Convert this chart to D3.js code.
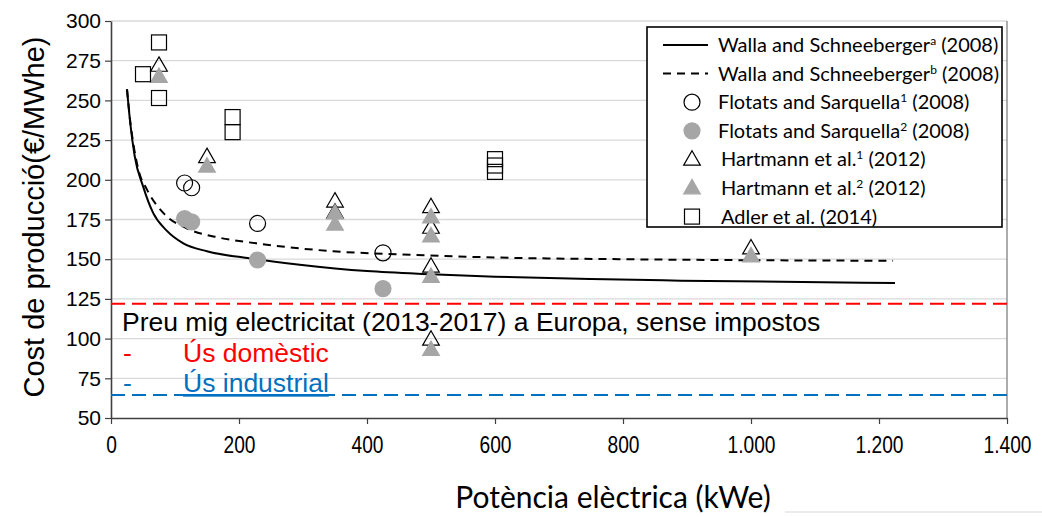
<!DOCTYPE html>
<html>
<head>
<meta charset="utf-8">
<script src="https://cdn.jsdelivr.net/npm/d3@7"></script>
<style>
  html, body { margin: 0; padding: 0; background: #fff; }
  svg { display: block; }
</style>
</head>
<body>
<svg id="chart" width="1042" height="517"></svg>
<script>
// Production cost of electricity from biogas vs. installed electric power

// Cost curves (kWe, €/MWhe)
const wallaA = [[25,257],[30,236],[37,215],[50,196],[66,179],[87,168],[113,160],[150,155],[217,150.5],[295,146.5],[400,142.5],[500,140.5],[600,139],[750,137.5],[890,136.5],[1225,135]];
const wallaB = [[25,257],[30,237],[36,220],[43,206],[56,194],[82,179],[118,169.5],[170,163.5],[227,160],[347,155],[452,153],[608,151],[800,150],[1222,149]];

// Literature points (kWe, €/MWhe)
const flotats1 = [[115,198],[126,195],[229,172.5],[425,154]];
const flotats2 = [[115,175.5],[126,173.5],[229,149.5],[425,131.5]];
const hartmann1 = [[75,272],[150,214.5],[350,186.5],[350,179.5],[500,183],[500,170],[500,145.5],[500,99.5],[1000,157]];
const hartmann2 = [[75,265],[150,208.5],[350,179],[350,172],[500,176.5],[500,164.5],[500,139],[500,93],[1000,152]];
const adler = [[50,266.5],[75,286.5],[75,251.5],[190,239.5],[190,230],[600,213],[600,209],[600,205]];

// Average electricity prices in Europe 2013-2017, without taxes
const priceDomestic = 122;
const priceIndustrial = 64.5;

const xTicks = [0, 200, 400, 600, 800, 1000, 1200, 1400];
const yTicks = [50, 75, 100, 125, 150, 175, 200, 225, 250, 275, 300];

const legendItems = [
  { label: "Walla and Schneeberger", sup: "a", tail: " (2008)", type: "solid" },
  { label: "Walla and Schneeberger", sup: "b", tail: " (2008)", type: "dashed" },
  { label: "Flotats and Sarquella", sup: "1", tail: " (2008)", type: "circleOpen" },
  { label: "Flotats and Sarquella", sup: "2", tail: " (2008)", type: "circleFilled" },
  { label: "Hartmann et al.", sup: "1", tail: " (2012)", type: "triOpen" },
  { label: "Hartmann et al.", sup: "2", tail: " (2012)", type: "triFilled" },
  { label: "Adler et al. (2014)", sup: "", tail: "", type: "square" }
];

const svg = d3.select("#chart");
const plotLeft = 111, plotRight = 1007, plotTop = 21, plotBottom = 418;
const gray = "#a6a6a6";
const arial = "'Liberation Sans', Arial, sans-serif";
const calibriLike = "Lato, 'Open Sans', sans-serif";

const x = d3.scaleLinear().domain([0, 1400]).range([plotLeft, plotRight]);
const y = d3.scaleLinear().domain([50, 300]).range([plotBottom, plotTop]);

// Horizontal gridlines
svg.append("g").selectAll("line").data(yTicks.filter(d => d > 50)).join("line")
  .attr("x1", plotLeft).attr("x2", plotRight)
  .attr("y1", d => y(d)).attr("y2", d => y(d))
  .attr("stroke", "#d9d9d9").attr("stroke-width", 1.3);

// Right frame edge
svg.append("line").attr("x1", plotRight).attr("x2", plotRight).attr("y1", plotTop).attr("y2", plotBottom)
  .attr("stroke", "#808080").attr("stroke-width", 1.3);

// Axes
const fmtX = d => d3.format(",")(d).replace(/,/g, ".");
const xAxis = svg.append("g").attr("transform", `translate(0,${plotBottom})`)
  .call(d3.axisBottom(x).tickValues(xTicks).tickFormat(fmtX).tickSize(6).tickSizeOuter(0));
xAxis.select(".domain").attr("stroke", "#404040").attr("stroke-width", 1.6);
xAxis.selectAll(".tick line").attr("stroke", "#404040").attr("stroke-width", 1.2);
xAxis.selectAll(".tick text")
  .attr("font-family", arial)
  .attr("font-size", 24).attr("fill", "#000").attr("dy", "1.1em")
  .attr("transform", "scale(0.8,1)");

const yAxis = svg.append("g").attr("transform", `translate(${plotLeft},0)`)
  .call(d3.axisLeft(y).tickValues(yTicks).tickSize(6).tickSizeOuter(0));
yAxis.select(".domain").attr("stroke", "#404040").attr("stroke-width", 1.6);
yAxis.selectAll(".tick line").attr("stroke", "#404040").attr("stroke-width", 1.2);
yAxis.selectAll(".tick text")
  .attr("font-family", arial)
  .attr("font-size", 21).attr("fill", "#000").attr("x", -10);

// Price reference lines
svg.append("line").attr("x1", plotLeft).attr("x2", plotRight)
  .attr("y1", y(priceDomestic)).attr("y2", y(priceDomestic))
  .attr("stroke", "#ff0000").attr("stroke-width", 2).attr("stroke-dasharray", "14,7");
svg.append("line").attr("x1", plotLeft).attr("x2", plotRight)
  .attr("y1", y(priceIndustrial)).attr("y2", y(priceIndustrial))
  .attr("stroke", "#0070c0").attr("stroke-width", 2).attr("stroke-dasharray", "14,7");

// Cost curves
const line = d3.line().x(d => x(d[0])).y(d => y(d[1])).curve(d3.curveMonotoneX);
svg.append("path").datum(wallaA).attr("d", line)
  .attr("fill", "none").attr("stroke", "#000").attr("stroke-width", 2);
svg.append("path").datum(wallaB).attr("d", line)
  .attr("fill", "none").attr("stroke", "#000").attr("stroke-width", 2).attr("stroke-dasharray", "8,6");

// Marker painters
const tri = d3.symbol().type(d3.symbolTriangle).size(120)();
function circles(g, data, filled) {
  g.selectAll(null).data(data).join("circle")
    .attr("cx", d => x(d[0])).attr("cy", d => y(d[1])).attr("r", 8)
    .attr("fill", filled ? gray : "none")
    .attr("stroke", filled ? gray : "#000").attr("stroke-width", 1.2);
}
function triangles(g, data, filled) {
  g.selectAll(null).data(data).join("path")
    .attr("d", tri)
    .attr("transform", d => `translate(${x(d[0])},${y(d[1]) + 1})`)
    .attr("fill", filled ? gray : "none")
    .attr("stroke", filled ? gray : "#000").attr("stroke-width", 1.2);
}
function squares(g, data) {
  g.selectAll(null).data(data).join("rect")
    .attr("x", d => x(d[0]) - 7.5).attr("y", d => y(d[1]) - 7.5)
    .attr("width", 15).attr("height", 15)
    .attr("fill", "none").attr("stroke", "#000").attr("stroke-width", 1.2);
}

circles(svg.append("g"), flotats1, false);
circles(svg.append("g"), flotats2, true);
triangles(svg.append("g"), hartmann1, false);
triangles(svg.append("g"), hartmann2, true);
squares(svg.append("g"), adler);

// Price annotation
const annoSize = 26.5;
svg.append("text").attr("x", 122).attr("y", 331)
  .attr("font-family", arial).attr("font-size", annoSize).attr("fill", "#000")
  .text("Preu mig electricitat (2013-2017) a Europa, sense impostos");
svg.append("text").attr("x", 123).attr("y", 362)
  .attr("font-family", arial).attr("font-size", annoSize).attr("fill", "#ff0000").text("-");
svg.append("text").attr("x", 183).attr("y", 362)
  .attr("font-family", arial).attr("font-size", annoSize).attr("fill", "#ff0000").text("Ús domèstic");
svg.append("text").attr("x", 123).attr("y", 392)
  .attr("font-family", arial).attr("font-size", annoSize).attr("fill", "#0070c0").text("-");
svg.append("text").attr("x", 183).attr("y", 392)
  .attr("font-family", arial).attr("font-size", annoSize).attr("fill", "#0070c0")
  .attr("text-decoration", "underline").text("Ús industrial");

// Legend
const lg = svg.append("g");
lg.append("rect").attr("x", 647).attr("y", 27).attr("width", 355).attr("height", 200)
  .attr("fill", "#fff").attr("stroke", "#000").attr("stroke-width", 1.6);
const rowY = i => 45 + i * 28.6;
legendItems.forEach((it, i) => {
  const cy = rowY(i);
  const mx = 692;
  if (it.type === "solid" || it.type === "dashed") {
    lg.append("line").attr("x1", 663).attr("x2", 708).attr("y1", cy).attr("y2", cy)
      .attr("stroke", "#000").attr("stroke-width", 2)
      .attr("stroke-dasharray", it.type === "dashed" ? "8,6" : null);
  } else if (it.type.startsWith("circle")) {
    const f = it.type === "circleFilled";
    lg.append("circle").attr("cx", mx).attr("cy", cy).attr("r", 8)
      .attr("fill", f ? gray : "none").attr("stroke", f ? gray : "#000").attr("stroke-width", 1.2);
  } else if (it.type.startsWith("tri")) {
    const f = it.type === "triFilled";
    lg.append("path").attr("d", tri).attr("transform", `translate(${mx},${cy + 1})`)
      .attr("fill", f ? gray : "none").attr("stroke", f ? gray : "#000").attr("stroke-width", 1.2);
  } else {
    lg.append("rect").attr("x", mx - 7.5).attr("y", cy - 7.5).attr("width", 15).attr("height", 15)
      .attr("fill", "none").attr("stroke", "#000").attr("stroke-width", 1.2);
  }
  const tx = it.type.startsWith("tri") || it.type === "square" ? 721 : 718;
  const t = lg.append("text").attr("x", tx).attr("y", cy + 7)
    .attr("font-family", calibriLike).attr("font-size", 20).attr("fill", "#000");
  t.append("tspan").text(it.label);
  if (it.sup) {
    t.append("tspan").attr("font-size", 12).attr("dy", -7).text(it.sup);
    t.append("tspan").attr("dy", 7).text(it.tail);
  }
});

// Axis titles
svg.append("text")
  .attr("transform", `translate(44,217) rotate(-90)`)
  .attr("text-anchor", "middle")
  .attr("font-family", arial).attr("font-size", 29).attr("fill", "#000")
  .text("Cost de producció(€/MWhe)");
svg.append("text").attr("x", 613).attr("y", 508).attr("text-anchor", "middle")
  .attr("font-family", calibriLike).attr("font-size", 30).attr("fill", "#000")
  .text("Potència elèctrica (kWe)");

// Thin edge line at the lower right
svg.append("line").attr("x1", 785).attr("x2", 1042).attr("y1", 512).attr("y2", 512)
  .attr("stroke", "#d9d9d9").attr("stroke-width", 1);
</script>
</body>
</html>
